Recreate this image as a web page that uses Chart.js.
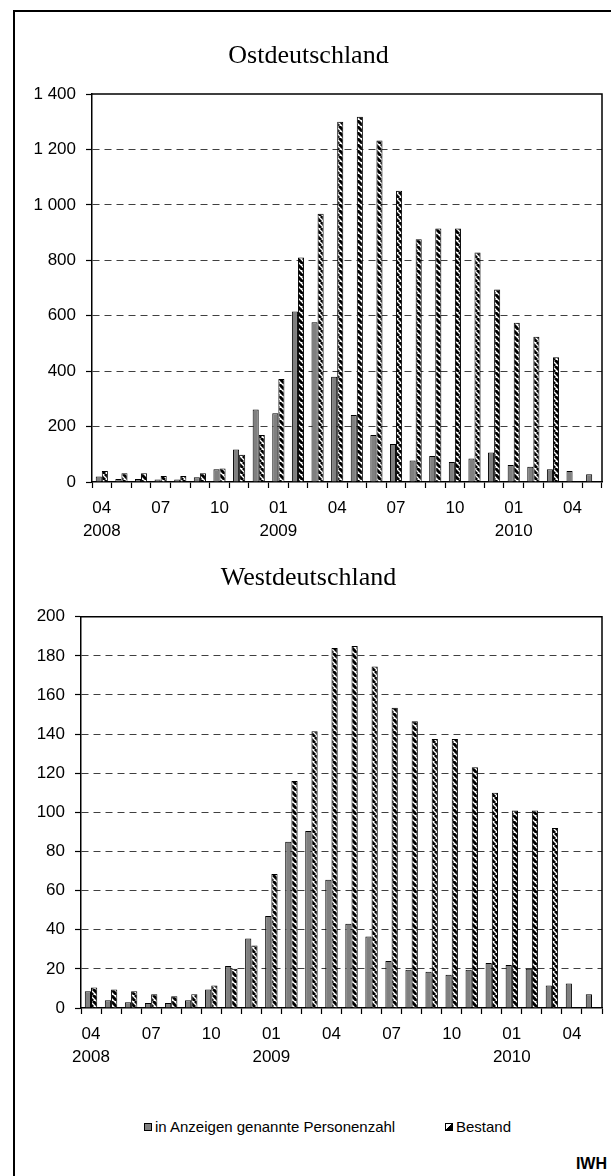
<!DOCTYPE html>
<html>
<head>
<meta charset="utf-8">
<script src="https://cdn.jsdelivr.net/npm/chart.js@4/dist/chart.umd.min.js"></script>
<style>
  html, body { margin: 0; padding: 0; background: #fff; }
  body { width: 611px; height: 1176px; position: relative; overflow: hidden; font-family: 'Liberation Sans', Arial, sans-serif; }
  #frame { position: absolute; left: 13px; top: 10px; width: 700px; height: 1300px; border-left: 2px solid #000; border-top: 2px solid #000; }
  .box { position: absolute; left: 15px; width: 596px; }
  #b1 { top: 12px; height: 533px; }
  #b2 { top: 545px; height: 555px; }
  .leg { position: absolute; top: 1118px; font-size: 15px; color: #000; line-height: 18px; white-space: nowrap; }
  .mk { display: inline-block; width: 6px; height: 6px; border: 1px solid #000; vertical-align: middle; margin-right: 3px; position: relative; top: -1px; }
  #iwh { position: absolute; right: 4px; top: 1155px; font-weight: bold; font-size: 16px; color: #000; }
</style>
</head>
<body>
<div id="frame"></div>
<div class="box" id="b1"><canvas id="c1"></canvas></div>
<div class="box" id="b2"><canvas id="c2"></canvas></div>
<div class="leg" style="left:144px"><span class="mk" style="background:#808080"></span>in Anzeigen genannte Personenzahl</div>
<div class="leg" style="left:445px"><span class="mk" style="background:linear-gradient(135deg,#fff 0 45%,#000 45% 100%)"></span>Bestand</div>
<div id="iwh">IWH</div>
<script>
// ---- data ----
const categories = ['2008-04','2008-05','2008-06','2008-07','2008-08','2008-09','2008-10','2008-11','2008-12',
  '2009-01','2009-02','2009-03','2009-04','2009-05','2009-06','2009-07','2009-08','2009-09','2009-10','2009-11','2009-12',
  '2010-01','2010-02','2010-03','2010-04','2010-05'];
const xMonthLabels = ['04','','','07','','','10','','','01','','','04','','','07','','','10','','','01','','','04',''];
const xYearLabels  = ['2008','','','','','','','','','2009','','','','','','','','','','','','2010','','','',''];
const seriesNames = ['in Anzeigen genannte Personenzahl', 'Bestand'];

const ostNew   = [20, 11, 11, 9, 9, 17, 46, 117, 262, 248, 615, 576, 380, 242, 170, 137, 78, 94, 72, 85, 106, 61, 55, 46, 40, 28];
const ostStock = [40, 32, 32, 22, 22, 32, 49, 98, 170, 372, 810, 968, 1300, 1318, 1232, 1051, 876, 915, 915, 828, 695, 575, 524, 450, null, null];
const westNew   = [8.5, 4, 3, 2.5, 2.5, 4, 9.5, 21.5, 35.5, 47, 85, 90.5, 65.5, 43, 36.5, 24, 19.5, 18.5, 17, 19.5, 23, 22, 20, 11.5, 12.5, 7];
const westStock = [10.5, 9.5, 8.5, 7, 6, 7, 11.5, 20, 32, 68.5, 116, 141.5, 184, 185, 174.5, 153.5, 146.5, 137.5, 137.5, 123, 110, 101, 101, 92, null, null];

const ostTicks  = { max: 1400, step: 200 };
const westTicks = { max: 200, step: 20 };

// ---- styles ----
function hatch() {
  const s = 6;
  const c = document.createElement('canvas');
  c.width = s; c.height = s;
  const g = c.getContext('2d');
  g.fillStyle = '#fff'; g.fillRect(0, 0, s, s);
  g.strokeStyle = '#000'; g.lineWidth = 3;
  g.beginPath();
  for (const k of [-s, 0, s]) { g.moveTo(k, 0); g.lineTo(k + s, s); }
  g.stroke();
  return g.createPattern(c, 'repeat');
}
const HATCH = hatch();

const framePlugin = {
  id: 'frame',
  afterDatasetsDraw(chart) {
    const { ctx, chartArea: a } = chart;
    ctx.save();
    ctx.strokeStyle = '#000';
    ctx.lineWidth = 1.5;
    ctx.beginPath();
    ctx.moveTo(a.left, a.top); ctx.lineTo(a.right, a.top); ctx.lineTo(a.right, a.bottom);
    ctx.stroke();
    ctx.restore();
  }
};

function fmt(v) {
  if (v >= 1000) return Math.floor(v / 1000) + ' ' + String(v % 1000).padStart(3, '0');
  return String(v);
}

function makeChart(id, title, newData, stockData, t, cfg) {
  return new Chart(document.getElementById(id), {
    type: 'bar',
    data: {
      labels: categories,
      datasets: [
        { label: seriesNames[0], data: newData, backgroundColor: '#808080', borderColor: '#000', borderWidth: 1,
          barPercentage: 1.0, categoryPercentage: 0.62 },
        { label: seriesNames[1], data: stockData, backgroundColor: HATCH, borderColor: '#000', borderWidth: 1,
          barPercentage: 1.0, categoryPercentage: 0.62 }
      ]
    },
    options: {
      responsive: true,
      maintainAspectRatio: false,
      animation: false,
      layout: { padding: { left: 0, right: 9, top: 0, bottom: 0 } },
      plugins: {
        legend: { display: false },
        tooltip: { enabled: false },
        title: {
          display: true, text: title, color: '#000',
          font: { family: "'Liberation Serif', 'Times New Roman', serif", size: 26, weight: 'normal', lineHeight: 1 },
          padding: { top: cfg.tPadTop, bottom: cfg.tPadBottom }
        }
      },
      scales: {
        x: {
          offset: true,
          grid: { offset: true, drawOnChartArea: false, drawTicks: true, tickLength: 6, tickColor: '#000', tickWidth: 1.2 },
          border: { display: true, color: '#000', width: 1.5 },
          ticks: {
            autoSkip: false, maxRotation: 0, minRotation: 0, padding: 8, color: '#000',
            font: { family: "'Liberation Sans', Arial, sans-serif", size: 17, lineHeight: 1.4 },
            callback: (v, i) => {
              const m = xMonthLabels[i], y = xYearLabels[i];
              if (!m) return '';
              return y ? [m, y] : m;
            }
          },
          afterFit: s => { s.height = cfg.xHeight; }
        },
        y: {
          min: 0, max: t.max,
          grid: {
            drawTicks: true, tickLength: 6, tickColor: '#000', tickWidth: 1.2, lineWidth: 1,
            color: c => (c.tick && (c.tick.value === 0 || c.tick.value === t.max)) ? 'rgba(0,0,0,0)' : '#404040'
          },
          border: { display: true, color: '#000', width: 1.5, dash: [7, 5] },
          ticks: {
            stepSize: t.step, padding: 10, color: '#000',
            font: { family: "'Liberation Sans', Arial, sans-serif", size: 17 },
            callback: v => fmt(v)
          },
          afterFit: s => { s.width = cfg.yWidth; }
        }
      }
    },
    plugins: [framePlugin]
  });
}

makeChart('c1', 'Ostdeutschland', ostNew, ostStock, ostTicks, { tPadTop: 31, tPadBottom: 25, xHeight: 63, yWidth: 77 });
makeChart('c2', 'Westdeutschland', westNew, westStock, westTicks, { tPadTop: 20.5, tPadBottom: 25.2, xHeight: 92, yWidth: 66 });
</script>
</body>
</html>
